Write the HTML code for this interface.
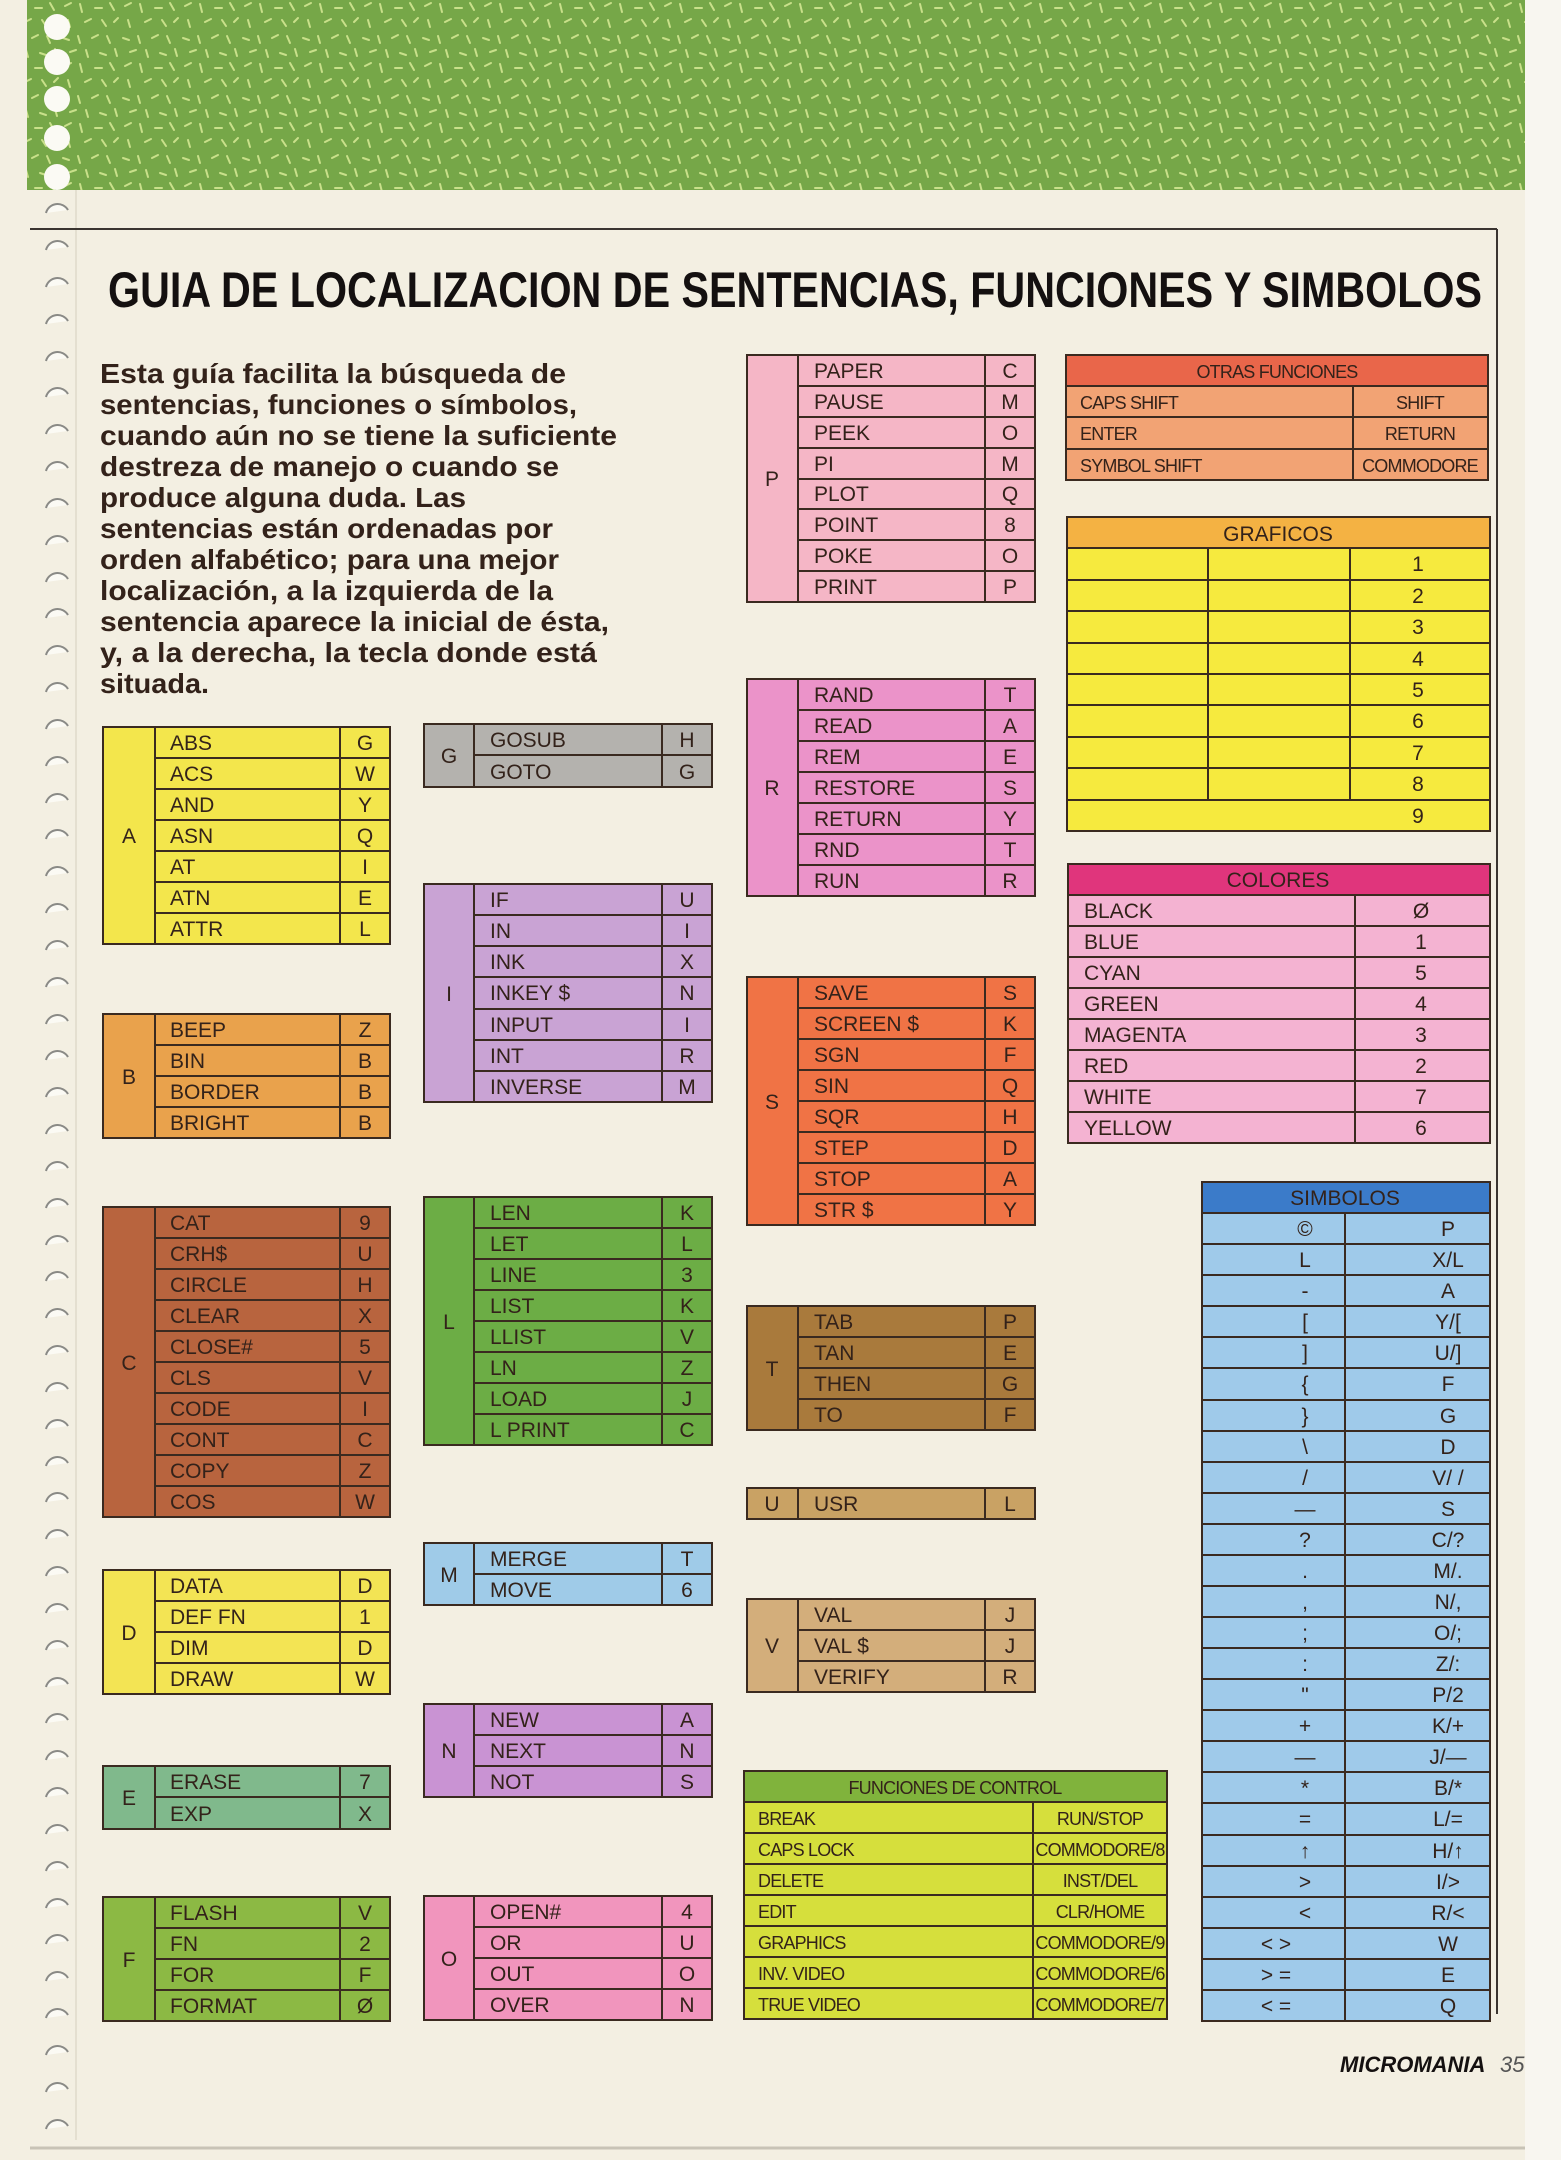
<!DOCTYPE html>
<html><head><meta charset="utf-8"><style>
html,body{margin:0;padding:0;background:#f3efe2}
svg{display:block}
text{font-family:"Liberation Sans",sans-serif;fill:#33221a}
.n{font-size:21px}
.k{font-size:21px;text-anchor:middle}
.s{font-size:18px;letter-spacing:-0.8px}
.c{text-anchor:middle}
.ln{stroke:#3a2a20;stroke-width:2;fill:none}
.b{stroke:#3a2a20;stroke-width:2}
</style></head><body>
<svg width="1561" height="2160" viewBox="0 0 1561 2160" xmlns="http://www.w3.org/2000/svg">
<defs>
<pattern id="sp" width="60" height="60" patternUnits="userSpaceOnUse">
<rect width="60" height="60" fill="#76a748"/>
<g stroke="#c9e08a" stroke-width="2" stroke-linecap="round">
<line x1="5" y1="6" x2="11" y2="3"/><line x1="20" y1="4" x2="22" y2="12"/><line x1="35" y1="8" x2="42" y2="8"/><line x1="50" y1="3" x2="54" y2="10"/>
<line x1="8" y1="20" x2="10" y2="27"/><line x1="25" y1="22" x2="31" y2="19"/><line x1="42" y1="20" x2="46" y2="26"/><line x1="54" y1="22" x2="58" y2="18"/>
<line x1="3" y1="38" x2="9" y2="40"/><line x1="18" y1="36" x2="20" y2="43"/><line x1="32" y1="38" x2="38" y2="35"/><line x1="47" y1="36" x2="50" y2="43"/>
<line x1="10" y1="52" x2="16" y2="50"/><line x1="26" y1="50" x2="28" y2="57"/><line x1="40" y1="53" x2="46" y2="55"/><line x1="55" y1="49" x2="57" y2="56"/>
</g></pattern>
</defs>
<rect width="1561" height="2160" fill="#f3efe2"/>
<rect x="1525" y="0" width="36" height="2160" fill="#f8f6f0"/>
<rect x="27" y="0" width="1498" height="190" fill="url(#sp)"/>
<g fill="#fbfaf4">
<circle cx="57" cy="27" r="13"/><circle cx="57" cy="62" r="13"/><circle cx="57" cy="99" r="13"/><circle cx="57" cy="138" r="13"/><circle cx="57" cy="177" r="13"/>
</g>
<g fill="#fbfaf4" stroke="#8a8a86" stroke-width="2">
<path d="M46 213 a12 12 0 0 1 22 -3"/><path d="M46 250 a12 12 0 0 1 22 -3"/><path d="M46 287 a12 12 0 0 1 22 -3"/><path d="M46 324 a12 12 0 0 1 22 -3"/><path d="M46 361 a12 12 0 0 1 22 -3"/><path d="M46 397 a12 12 0 0 1 22 -3"/><path d="M46 434 a12 12 0 0 1 22 -3"/><path d="M46 471 a12 12 0 0 1 22 -3"/><path d="M46 508 a12 12 0 0 1 22 -3"/><path d="M46 545 a12 12 0 0 1 22 -3"/><path d="M46 582 a12 12 0 0 1 22 -3"/><path d="M46 618 a12 12 0 0 1 22 -3"/><path d="M46 655 a12 12 0 0 1 22 -3"/><path d="M46 692 a12 12 0 0 1 22 -3"/><path d="M46 729 a12 12 0 0 1 22 -3"/><path d="M46 766 a12 12 0 0 1 22 -3"/><path d="M46 803 a12 12 0 0 1 22 -3"/><path d="M46 839 a12 12 0 0 1 22 -3"/><path d="M46 876 a12 12 0 0 1 22 -3"/><path d="M46 913 a12 12 0 0 1 22 -3"/><path d="M46 950 a12 12 0 0 1 22 -3"/><path d="M46 987 a12 12 0 0 1 22 -3"/><path d="M46 1024 a12 12 0 0 1 22 -3"/><path d="M46 1060 a12 12 0 0 1 22 -3"/><path d="M46 1097 a12 12 0 0 1 22 -3"/><path d="M46 1134 a12 12 0 0 1 22 -3"/><path d="M46 1171 a12 12 0 0 1 22 -3"/><path d="M46 1208 a12 12 0 0 1 22 -3"/><path d="M46 1245 a12 12 0 0 1 22 -3"/><path d="M46 1281 a12 12 0 0 1 22 -3"/><path d="M46 1318 a12 12 0 0 1 22 -3"/><path d="M46 1355 a12 12 0 0 1 22 -3"/><path d="M46 1392 a12 12 0 0 1 22 -3"/><path d="M46 1429 a12 12 0 0 1 22 -3"/><path d="M46 1466 a12 12 0 0 1 22 -3"/><path d="M46 1502 a12 12 0 0 1 22 -3"/><path d="M46 1539 a12 12 0 0 1 22 -3"/><path d="M46 1576 a12 12 0 0 1 22 -3"/><path d="M46 1613 a12 12 0 0 1 22 -3"/><path d="M46 1650 a12 12 0 0 1 22 -3"/><path d="M46 1687 a12 12 0 0 1 22 -3"/><path d="M46 1723 a12 12 0 0 1 22 -3"/><path d="M46 1760 a12 12 0 0 1 22 -3"/><path d="M46 1797 a12 12 0 0 1 22 -3"/><path d="M46 1834 a12 12 0 0 1 22 -3"/><path d="M46 1871 a12 12 0 0 1 22 -3"/><path d="M46 1908 a12 12 0 0 1 22 -3"/><path d="M46 1944 a12 12 0 0 1 22 -3"/><path d="M46 1981 a12 12 0 0 1 22 -3"/><path d="M46 2018 a12 12 0 0 1 22 -3"/><path d="M46 2055 a12 12 0 0 1 22 -3"/><path d="M46 2092 a12 12 0 0 1 22 -3"/><path d="M46 2129 a12 12 0 0 1 22 -3"/>
</g>
<line x1="76" y1="190" x2="76" y2="2140" stroke="#e4dfd0" stroke-width="2"/>
<line x1="30" y1="229" x2="1497" y2="229" stroke="#3a3430" stroke-width="2"/>
<line x1="1497" y1="229" x2="1497" y2="2014" stroke="#3a3430" stroke-width="2"/>
<line x1="30" y1="2148" x2="1525" y2="2148" stroke="#c8c3b6" stroke-width="3"/>

<text x="108" y="307" font-size="50" font-weight="bold" textLength="1374" lengthAdjust="spacingAndGlyphs" style="fill:#141010">GUIA DE LOCALIZACION DE SENTENCIAS, FUNCIONES Y SIMBOLOS</text>

<g style="fill:#141010">
<text x="100" y="383" font-size="28" font-weight="bold" textLength="466" lengthAdjust="spacingAndGlyphs">Esta guía facilita la búsqueda de</text>
<text x="100" y="414" font-size="28" font-weight="bold" textLength="477" lengthAdjust="spacingAndGlyphs">sentencias, funciones o símbolos,</text>
<text x="100" y="445" font-size="28" font-weight="bold" textLength="517" lengthAdjust="spacingAndGlyphs">cuando aún no se tiene la suficiente</text>
<text x="100" y="476" font-size="28" font-weight="bold" textLength="459" lengthAdjust="spacingAndGlyphs">destreza de manejo o cuando se</text>
<text x="100" y="507" font-size="28" font-weight="bold" textLength="366" lengthAdjust="spacingAndGlyphs">produce alguna duda. Las</text>
<text x="100" y="538" font-size="28" font-weight="bold" textLength="453" lengthAdjust="spacingAndGlyphs">sentencias están ordenadas por</text>
<text x="100" y="569" font-size="28" font-weight="bold" textLength="459" lengthAdjust="spacingAndGlyphs">orden alfabético; para una mejor</text>
<text x="100" y="600" font-size="28" font-weight="bold" textLength="453" lengthAdjust="spacingAndGlyphs">localización, a la izquierda de la</text>
<text x="100" y="631" font-size="28" font-weight="bold" textLength="509" lengthAdjust="spacingAndGlyphs">sentencia aparece la inicial de ésta,</text>
<text x="100" y="662" font-size="28" font-weight="bold" textLength="497" lengthAdjust="spacingAndGlyphs">y, a la derecha, la tecla donde está</text>
<text x="100" y="693" font-size="28" font-weight="bold" textLength="109" lengthAdjust="spacingAndGlyphs">situada.</text>
</g>

<!-- A -->
<rect x="103" y="727" width="287" height="217" fill="#f3e64c" class="b"/>
<path class="ln" d="M155 727V944M340 727V944M155 758H390M155 789H390M155 820H390M155 851H390M155 882H390M155 913H390"/>
<text x="129" y="843" class="k">A</text>
<text x="170" y="750" class="n">ABS</text><text x="365" y="750" class="k">G</text>
<text x="170" y="781" class="n">ACS</text><text x="365" y="781" class="k">W</text>
<text x="170" y="812" class="n">AND</text><text x="365" y="812" class="k">Y</text>
<text x="170" y="843" class="n">ASN</text><text x="365" y="843" class="k">Q</text>
<text x="170" y="874" class="n">AT</text><text x="365" y="874" class="k">I</text>
<text x="170" y="905" class="n">ATN</text><text x="365" y="905" class="k">E</text>
<text x="170" y="936" class="n">ATTR</text><text x="365" y="936" class="k">L</text>

<!-- B -->
<rect x="103" y="1014" width="287" height="124" fill="#e9a24c" class="b"/>
<path class="ln" d="M155 1014V1138M340 1014V1138M155 1045H390M155 1076H390M155 1107H390"/>
<text x="129" y="1084" class="k">B</text>
<text x="170" y="1037" class="n">BEEP</text><text x="365" y="1037" class="k">Z</text>
<text x="170" y="1068" class="n">BIN</text><text x="365" y="1068" class="k">B</text>
<text x="170" y="1099" class="n">BORDER</text><text x="365" y="1099" class="k">B</text>
<text x="170" y="1130" class="n">BRIGHT</text><text x="365" y="1130" class="k">B</text>

<!-- C -->
<rect x="103" y="1207" width="287" height="310" fill="#b8643e" class="b"/>
<path class="ln" d="M155 1207V1517M340 1207V1517M155 1238H390M155 1269H390M155 1300H390M155 1331H390M155 1362H390M155 1393H390M155 1424H390M155 1455H390M155 1486H390"/>
<text x="129" y="1370" class="k">C</text>
<text x="170" y="1230" class="n">CAT</text><text x="365" y="1230" class="k">9</text>
<text x="170" y="1261" class="n">CRH$</text><text x="365" y="1261" class="k">U</text>
<text x="170" y="1292" class="n">CIRCLE</text><text x="365" y="1292" class="k">H</text>
<text x="170" y="1323" class="n">CLEAR</text><text x="365" y="1323" class="k">X</text>
<text x="170" y="1354" class="n">CLOSE#</text><text x="365" y="1354" class="k">5</text>
<text x="170" y="1385" class="n">CLS</text><text x="365" y="1385" class="k">V</text>
<text x="170" y="1416" class="n">CODE</text><text x="365" y="1416" class="k">I</text>
<text x="170" y="1447" class="n">CONT</text><text x="365" y="1447" class="k">C</text>
<text x="170" y="1478" class="n">COPY</text><text x="365" y="1478" class="k">Z</text>
<text x="170" y="1509" class="n">COS</text><text x="365" y="1509" class="k">W</text>

<!-- D -->
<rect x="103" y="1570" width="287" height="124" fill="#f3e454" class="b"/>
<path class="ln" d="M155 1570V1694M340 1570V1694M155 1601H390M155 1632H390M155 1663H390"/>
<text x="129" y="1640" class="k">D</text>
<text x="170" y="1593" class="n">DATA</text><text x="365" y="1593" class="k">D</text>
<text x="170" y="1624" class="n">DEF FN</text><text x="365" y="1624" class="k">1</text>
<text x="170" y="1655" class="n">DIM</text><text x="365" y="1655" class="k">D</text>
<text x="170" y="1686" class="n">DRAW</text><text x="365" y="1686" class="k">W</text>

<!-- E -->
<rect x="103" y="1766" width="287" height="63" fill="#80b98c" class="b"/>
<path class="ln" d="M155 1766V1829M340 1766V1829M155 1797H390"/>
<text x="129" y="1805" class="k">E</text>
<text x="170" y="1789" class="n">ERASE</text><text x="365" y="1789" class="k">7</text>
<text x="170" y="1821" class="n">EXP</text><text x="365" y="1821" class="k">X</text>

<!-- F -->
<rect x="103" y="1897" width="287" height="124" fill="#8cb944" class="b"/>
<path class="ln" d="M155 1897V2021M340 1897V2021M155 1928H390M155 1959H390M155 1990H390"/>
<text x="129" y="1967" class="k">F</text>
<text x="170" y="1920" class="n">FLASH</text><text x="365" y="1920" class="k">V</text>
<text x="170" y="1951" class="n">FN</text><text x="365" y="1951" class="k">2</text>
<text x="170" y="1982" class="n">FOR</text><text x="365" y="1982" class="k">F</text>
<text x="170" y="2013" class="n">FORMAT</text><text x="365" y="2013" class="k">Ø</text>

<!-- G -->
<rect x="424" y="724" width="288" height="63" fill="#b4b2ae" class="b"/>
<path class="ln" d="M474 724V787M662 724V787M474 755H712"/>
<text x="449" y="763" class="k">G</text>
<text x="490" y="747" class="n">GOSUB</text><text x="687" y="747" class="k">H</text>
<text x="490" y="779" class="n">GOTO</text><text x="687" y="779" class="k">G</text>

<!-- I -->
<rect x="424" y="884" width="288" height="218" fill="#c9a3d4" class="b"/>
<path class="ln" d="M474 884V1102M662 884V1102M474 915H712M474 946H712M474 977H712M474 1009H712M474 1040H712M474 1071H712"/>
<text x="449" y="1001" class="k">I</text>
<text x="490" y="907" class="n">IF</text><text x="687" y="907" class="k">U</text>
<text x="490" y="938" class="n">IN</text><text x="687" y="938" class="k">I</text>
<text x="490" y="969" class="n">INK</text><text x="687" y="969" class="k">X</text>
<text x="490" y="1000" class="n">INKEY $</text><text x="687" y="1000" class="k">N</text>
<text x="490" y="1032" class="n">INPUT</text><text x="687" y="1032" class="k">I</text>
<text x="490" y="1063" class="n">INT</text><text x="687" y="1063" class="k">R</text>
<text x="490" y="1094" class="n">INVERSE</text><text x="687" y="1094" class="k">M</text>

<!-- L -->
<rect x="424" y="1197" width="288" height="248" fill="#6cad45" class="b"/>
<path class="ln" d="M474 1197V1445M662 1197V1445M474 1228H712M474 1259H712M474 1290H712M474 1321H712M474 1352H712M474 1383H712M474 1414H712"/>
<text x="449" y="1329" class="k">L</text>
<text x="490" y="1220" class="n">LEN</text><text x="687" y="1220" class="k">K</text>
<text x="490" y="1251" class="n">LET</text><text x="687" y="1251" class="k">L</text>
<text x="490" y="1282" class="n">LINE</text><text x="687" y="1282" class="k">3</text>
<text x="490" y="1313" class="n">LIST</text><text x="687" y="1313" class="k">K</text>
<text x="490" y="1344" class="n">LLIST</text><text x="687" y="1344" class="k">V</text>
<text x="490" y="1375" class="n">LN</text><text x="687" y="1375" class="k">Z</text>
<text x="490" y="1406" class="n">LOAD</text><text x="687" y="1406" class="k">J</text>
<text x="490" y="1437" class="n">L PRINT</text><text x="687" y="1437" class="k">C</text>

<!-- M -->
<rect x="424" y="1543" width="288" height="62" fill="#9fcbe8" class="b"/>
<path class="ln" d="M474 1543V1605M662 1543V1605M474 1574H712"/>
<text x="449" y="1582" class="k">M</text>
<text x="490" y="1566" class="n">MERGE</text><text x="687" y="1566" class="k">T</text>
<text x="490" y="1597" class="n">MOVE</text><text x="687" y="1597" class="k">6</text>

<!-- N -->
<rect x="424" y="1704" width="288" height="93" fill="#c993d3" class="b"/>
<path class="ln" d="M474 1704V1797M662 1704V1797M474 1735H712M474 1766H712"/>
<text x="449" y="1758" class="k">N</text>
<text x="490" y="1727" class="n">NEW</text><text x="687" y="1727" class="k">A</text>
<text x="490" y="1758" class="n">NEXT</text><text x="687" y="1758" class="k">N</text>
<text x="490" y="1789" class="n">NOT</text><text x="687" y="1789" class="k">S</text>

<!-- O -->
<rect x="424" y="1896" width="288" height="124" fill="#f195bd" class="b"/>
<path class="ln" d="M474 1896V2020M662 1896V2020M474 1927H712M474 1958H712M474 1989H712"/>
<text x="449" y="1966" class="k">O</text>
<text x="490" y="1919" class="n">OPEN#</text><text x="687" y="1919" class="k">4</text>
<text x="490" y="1950" class="n">OR</text><text x="687" y="1950" class="k">U</text>
<text x="490" y="1981" class="n">OUT</text><text x="687" y="1981" class="k">O</text>
<text x="490" y="2012" class="n">OVER</text><text x="687" y="2012" class="k">N</text>

<!-- P -->
<rect x="747" y="355" width="288" height="247" fill="#f5b6c6" class="b"/>
<path class="ln" d="M798 355V602M985 355V602M798 386H1035M798 417H1035M798 448H1035M798 479H1035M798 509H1035M798 540H1035M798 571H1035"/>
<text x="772" y="486" class="k">P</text>
<text x="814" y="378" class="n">PAPER</text><text x="1010" y="378" class="k">C</text>
<text x="814" y="409" class="n">PAUSE</text><text x="1010" y="409" class="k">M</text>
<text x="814" y="440" class="n">PEEK</text><text x="1010" y="440" class="k">O</text>
<text x="814" y="471" class="n">PI</text><text x="1010" y="471" class="k">M</text>
<text x="814" y="501" class="n">PLOT</text><text x="1010" y="501" class="k">Q</text>
<text x="814" y="532" class="n">POINT</text><text x="1010" y="532" class="k">8</text>
<text x="814" y="563" class="n">POKE</text><text x="1010" y="563" class="k">O</text>
<text x="814" y="594" class="n">PRINT</text><text x="1010" y="594" class="k">P</text>

<!-- R -->
<rect x="747" y="679" width="288" height="217" fill="#eb93c9" class="b"/>
<path class="ln" d="M798 679V896M985 679V896M798 710H1035M798 741H1035M798 772H1035M798 803H1035M798 834H1035M798 865H1035"/>
<text x="772" y="795" class="k">R</text>
<text x="814" y="702" class="n">RAND</text><text x="1010" y="702" class="k">T</text>
<text x="814" y="733" class="n">READ</text><text x="1010" y="733" class="k">A</text>
<text x="814" y="764" class="n">REM</text><text x="1010" y="764" class="k">E</text>
<text x="814" y="795" class="n">RESTORE</text><text x="1010" y="795" class="k">S</text>
<text x="814" y="826" class="n">RETURN</text><text x="1010" y="826" class="k">Y</text>
<text x="814" y="857" class="n">RND</text><text x="1010" y="857" class="k">T</text>
<text x="814" y="888" class="n">RUN</text><text x="1010" y="888" class="k">R</text>

<!-- S -->
<rect x="747" y="977" width="288" height="248" fill="#f07345" class="b"/>
<path class="ln" d="M798 977V1225M985 977V1225M798 1008H1035M798 1039H1035M798 1070H1035M798 1101H1035M798 1132H1035M798 1163H1035M798 1194H1035"/>
<text x="772" y="1109" class="k">S</text>
<text x="814" y="1000" class="n">SAVE</text><text x="1010" y="1000" class="k">S</text>
<text x="814" y="1031" class="n">SCREEN $</text><text x="1010" y="1031" class="k">K</text>
<text x="814" y="1062" class="n">SGN</text><text x="1010" y="1062" class="k">F</text>
<text x="814" y="1093" class="n">SIN</text><text x="1010" y="1093" class="k">Q</text>
<text x="814" y="1124" class="n">SQR</text><text x="1010" y="1124" class="k">H</text>
<text x="814" y="1155" class="n">STEP</text><text x="1010" y="1155" class="k">D</text>
<text x="814" y="1186" class="n">STOP</text><text x="1010" y="1186" class="k">A</text>
<text x="814" y="1217" class="n">STR $</text><text x="1010" y="1217" class="k">Y</text>

<!-- T -->
<rect x="747" y="1306" width="288" height="124" fill="#a97a3c" class="b"/>
<path class="ln" d="M798 1306V1430M985 1306V1430M798 1337H1035M798 1368H1035M798 1399H1035"/>
<text x="772" y="1376" class="k">T</text>
<text x="814" y="1329" class="n">TAB</text><text x="1010" y="1329" class="k">P</text>
<text x="814" y="1360" class="n">TAN</text><text x="1010" y="1360" class="k">E</text>
<text x="814" y="1391" class="n">THEN</text><text x="1010" y="1391" class="k">G</text>
<text x="814" y="1422" class="n">TO</text><text x="1010" y="1422" class="k">F</text>

<!-- U -->
<rect x="747" y="1488" width="288" height="31" fill="#c9a264" class="b"/>
<path class="ln" d="M798 1488V1519M985 1488V1519"/>
<text x="772" y="1511" class="k">U</text>
<text x="814" y="1511" class="n">USR</text><text x="1010" y="1511" class="k">L</text>

<!-- V -->
<rect x="747" y="1599" width="288" height="93" fill="#d3ae7b" class="b"/>
<path class="ln" d="M798 1599V1692M985 1599V1692M798 1630H1035M798 1661H1035"/>
<text x="772" y="1653" class="k">V</text>
<text x="814" y="1622" class="n">VAL</text><text x="1010" y="1622" class="k">J</text>
<text x="814" y="1653" class="n">VAL $</text><text x="1010" y="1653" class="k">J</text>
<text x="814" y="1684" class="n">VERIFY</text><text x="1010" y="1684" class="k">R</text>

<!-- OTRAS FUNCIONES -->
<rect x="1066" y="355" width="422" height="125" fill="#f2a374" class="b"/>
<rect x="1067" y="356" width="420" height="30" fill="#e9664a"/>
<path class="ln" d="M1066 386H1488M1066 417H1488M1066 449H1488M1353 386V480"/>
<text x="1277" y="378" class="s c">OTRAS FUNCIONES</text>
<text x="1080" y="409" class="s">CAPS SHIFT</text><text x="1420" y="409" class="s c">SHIFT</text>
<text x="1080" y="440" class="s">ENTER</text><text x="1420" y="440" class="s c">RETURN</text>
<text x="1080" y="472" class="s">SYMBOL SHIFT</text><text x="1420" y="472" class="s c">COMMODORE</text>

<!-- GRAFICOS -->
<rect x="1067" y="517" width="423" height="314" fill="#f6ea3e" class="b"/>
<rect x="1068" y="518" width="421" height="30" fill="#f4b243"/>
<path class="ln" d="M1067 548H1490M1067 580H1490M1067 611H1490M1067 643H1490M1067 674H1490M1067 705H1490M1067 737H1490M1067 768H1490M1067 800H1490M1208 548V800M1350 548V800"/>
<text x="1278" y="541" class="k">GRAFICOS</text>
<text x="1418" y="571" class="k">1</text><text x="1418" y="603" class="k">2</text><text x="1418" y="634" class="k">3</text><text x="1418" y="666" class="k">4</text><text x="1418" y="697" class="k">5</text><text x="1418" y="728" class="k">6</text><text x="1418" y="760" class="k">7</text><text x="1418" y="791" class="k">8</text><text x="1418" y="823" class="k">9</text>

<!-- COLORES -->
<rect x="1068" y="864" width="422" height="279" fill="#f4b3d2" class="b"/>
<rect x="1069" y="865" width="420" height="30" fill="#e0357c"/>
<path class="ln" d="M1068 895H1490M1068 926H1490M1068 957H1490M1068 988H1490M1068 1019H1490M1068 1050H1490M1068 1081H1490M1068 1112H1490M1355 895V1143"/>
<text x="1278" y="887" class="k">COLORES</text>
<text x="1084" y="918" class="n">BLACK</text><text x="1421" y="918" class="k">Ø</text>
<text x="1084" y="949" class="n">BLUE</text><text x="1421" y="949" class="k">1</text>
<text x="1084" y="980" class="n">CYAN</text><text x="1421" y="980" class="k">5</text>
<text x="1084" y="1011" class="n">GREEN</text><text x="1421" y="1011" class="k">4</text>
<text x="1084" y="1042" class="n">MAGENTA</text><text x="1421" y="1042" class="k">3</text>
<text x="1084" y="1073" class="n">RED</text><text x="1421" y="1073" class="k">2</text>
<text x="1084" y="1104" class="n">WHITE</text><text x="1421" y="1104" class="k">7</text>
<text x="1084" y="1135" class="n">YELLOW</text><text x="1421" y="1135" class="k">6</text>

<!-- SIMBOLOS -->
<rect x="1202" y="1182" width="288" height="839" fill="#9fcaea" class="b"/>
<rect x="1203" y="1183" width="286" height="30" fill="#3b7bc9"/>
<path class="ln" d="M1202 1213H1490M1202 1244H1490M1202 1275H1490M1202 1306H1490M1202 1337H1490M1202 1368H1490M1202 1400H1490M1202 1431H1490M1202 1462H1490M1202 1493H1490M1202 1524H1490M1202 1555H1490M1202 1586H1490M1202 1617H1490M1202 1648H1490M1202 1679H1490M1202 1710H1490M1202 1741H1490M1202 1772H1490M1202 1803H1490M1202 1835H1490M1202 1866H1490M1202 1897H1490M1202 1928H1490M1202 1959H1490M1202 1990H1490M1345 1213V2021"/>
<text x="1345" y="1205" class="k">SIMBOLOS</text>
<text x="1305" y="1236" class="k">©</text><text x="1448" y="1236" class="k">P</text>
<text x="1305" y="1267" class="k">L</text><text x="1448" y="1267" class="k">X/L</text>
<text x="1305" y="1298" class="k">-</text><text x="1448" y="1298" class="k">A</text>
<text x="1305" y="1329" class="k">[</text><text x="1448" y="1329" class="k">Y/[</text>
<text x="1305" y="1360" class="k">]</text><text x="1448" y="1360" class="k">U/]</text>
<text x="1305" y="1391" class="k">{</text><text x="1448" y="1391" class="k">F</text>
<text x="1305" y="1423" class="k">}</text><text x="1448" y="1423" class="k">G</text>
<text x="1305" y="1454" class="k">\</text><text x="1448" y="1454" class="k">D</text>
<text x="1305" y="1485" class="k">/</text><text x="1448" y="1485" class="k">V/ /</text>
<text x="1305" y="1516" class="k">—</text><text x="1448" y="1516" class="k">S</text>
<text x="1305" y="1547" class="k">?</text><text x="1448" y="1547" class="k">C/?</text>
<text x="1305" y="1578" class="k">.</text><text x="1448" y="1578" class="k">M/.</text>
<text x="1305" y="1609" class="k">,</text><text x="1448" y="1609" class="k">N/,</text>
<text x="1305" y="1640" class="k">;</text><text x="1448" y="1640" class="k">O/;</text>
<text x="1305" y="1671" class="k">:</text><text x="1448" y="1671" class="k">Z/:</text>
<text x="1305" y="1702" class="k">"</text><text x="1448" y="1702" class="k">P/2</text>
<text x="1305" y="1733" class="k">+</text><text x="1448" y="1733" class="k">K/+</text>
<text x="1305" y="1764" class="k">—</text><text x="1448" y="1764" class="k">J/—</text>
<text x="1305" y="1795" class="k">*</text><text x="1448" y="1795" class="k">B/*</text>
<text x="1305" y="1826" class="k">=</text><text x="1448" y="1826" class="k">L/=</text>
<text x="1305" y="1858" class="k">↑</text><text x="1448" y="1858" class="k">H/↑</text>
<text x="1305" y="1889" class="k">&gt;</text><text x="1448" y="1889" class="k">I/&gt;</text>
<text x="1305" y="1920" class="k">&lt;</text><text x="1448" y="1920" class="k">R/&lt;</text>
<text x="1276" y="1951" class="k">&lt; &gt;</text><text x="1448" y="1951" class="k">W</text>
<text x="1276" y="1982" class="k">&gt; =</text><text x="1448" y="1982" class="k">E</text>
<text x="1276" y="2013" class="k">&lt; =</text><text x="1448" y="2013" class="k">Q</text>

<!-- FUNCIONES DE CONTROL -->
<rect x="744" y="1771" width="423" height="248" fill="#d6df3c" class="b"/>
<rect x="745" y="1772" width="421" height="30" fill="#80b33c"/>
<path class="ln" d="M744 1802H1167M744 1833H1167M744 1864H1167M744 1895H1167M744 1926H1167M744 1957H1167M744 1988H1167M1033 1802V2019"/>
<text x="955" y="1794" class="s c">FUNCIONES DE CONTROL</text>
<text x="758" y="1825" class="s">BREAK</text><text x="1100" y="1825" class="s c">RUN/STOP</text>
<text x="758" y="1856" class="s">CAPS LOCK</text><text x="1100" y="1856" class="s c">COMMODORE/8</text>
<text x="758" y="1887" class="s">DELETE</text><text x="1100" y="1887" class="s c">INST/DEL</text>
<text x="758" y="1918" class="s">EDIT</text><text x="1100" y="1918" class="s c">CLR/HOME</text>
<text x="758" y="1949" class="s">GRAPHICS</text><text x="1100" y="1949" class="s c">COMMODORE/9</text>
<text x="758" y="1980" class="s">INV. VIDEO</text><text x="1100" y="1980" class="s c">COMMODORE/6</text>
<text x="758" y="2011" class="s">TRUE VIDEO</text><text x="1100" y="2011" class="s c">COMMODORE/7</text>

<text x="1340" y="2072" font-size="22" font-weight="bold" font-style="italic" style="fill:#141010">MICROMANIA</text>
<text x="1500" y="2072" font-size="22" font-style="italic" style="fill:#555">35</text>
</svg>
</body></html>
